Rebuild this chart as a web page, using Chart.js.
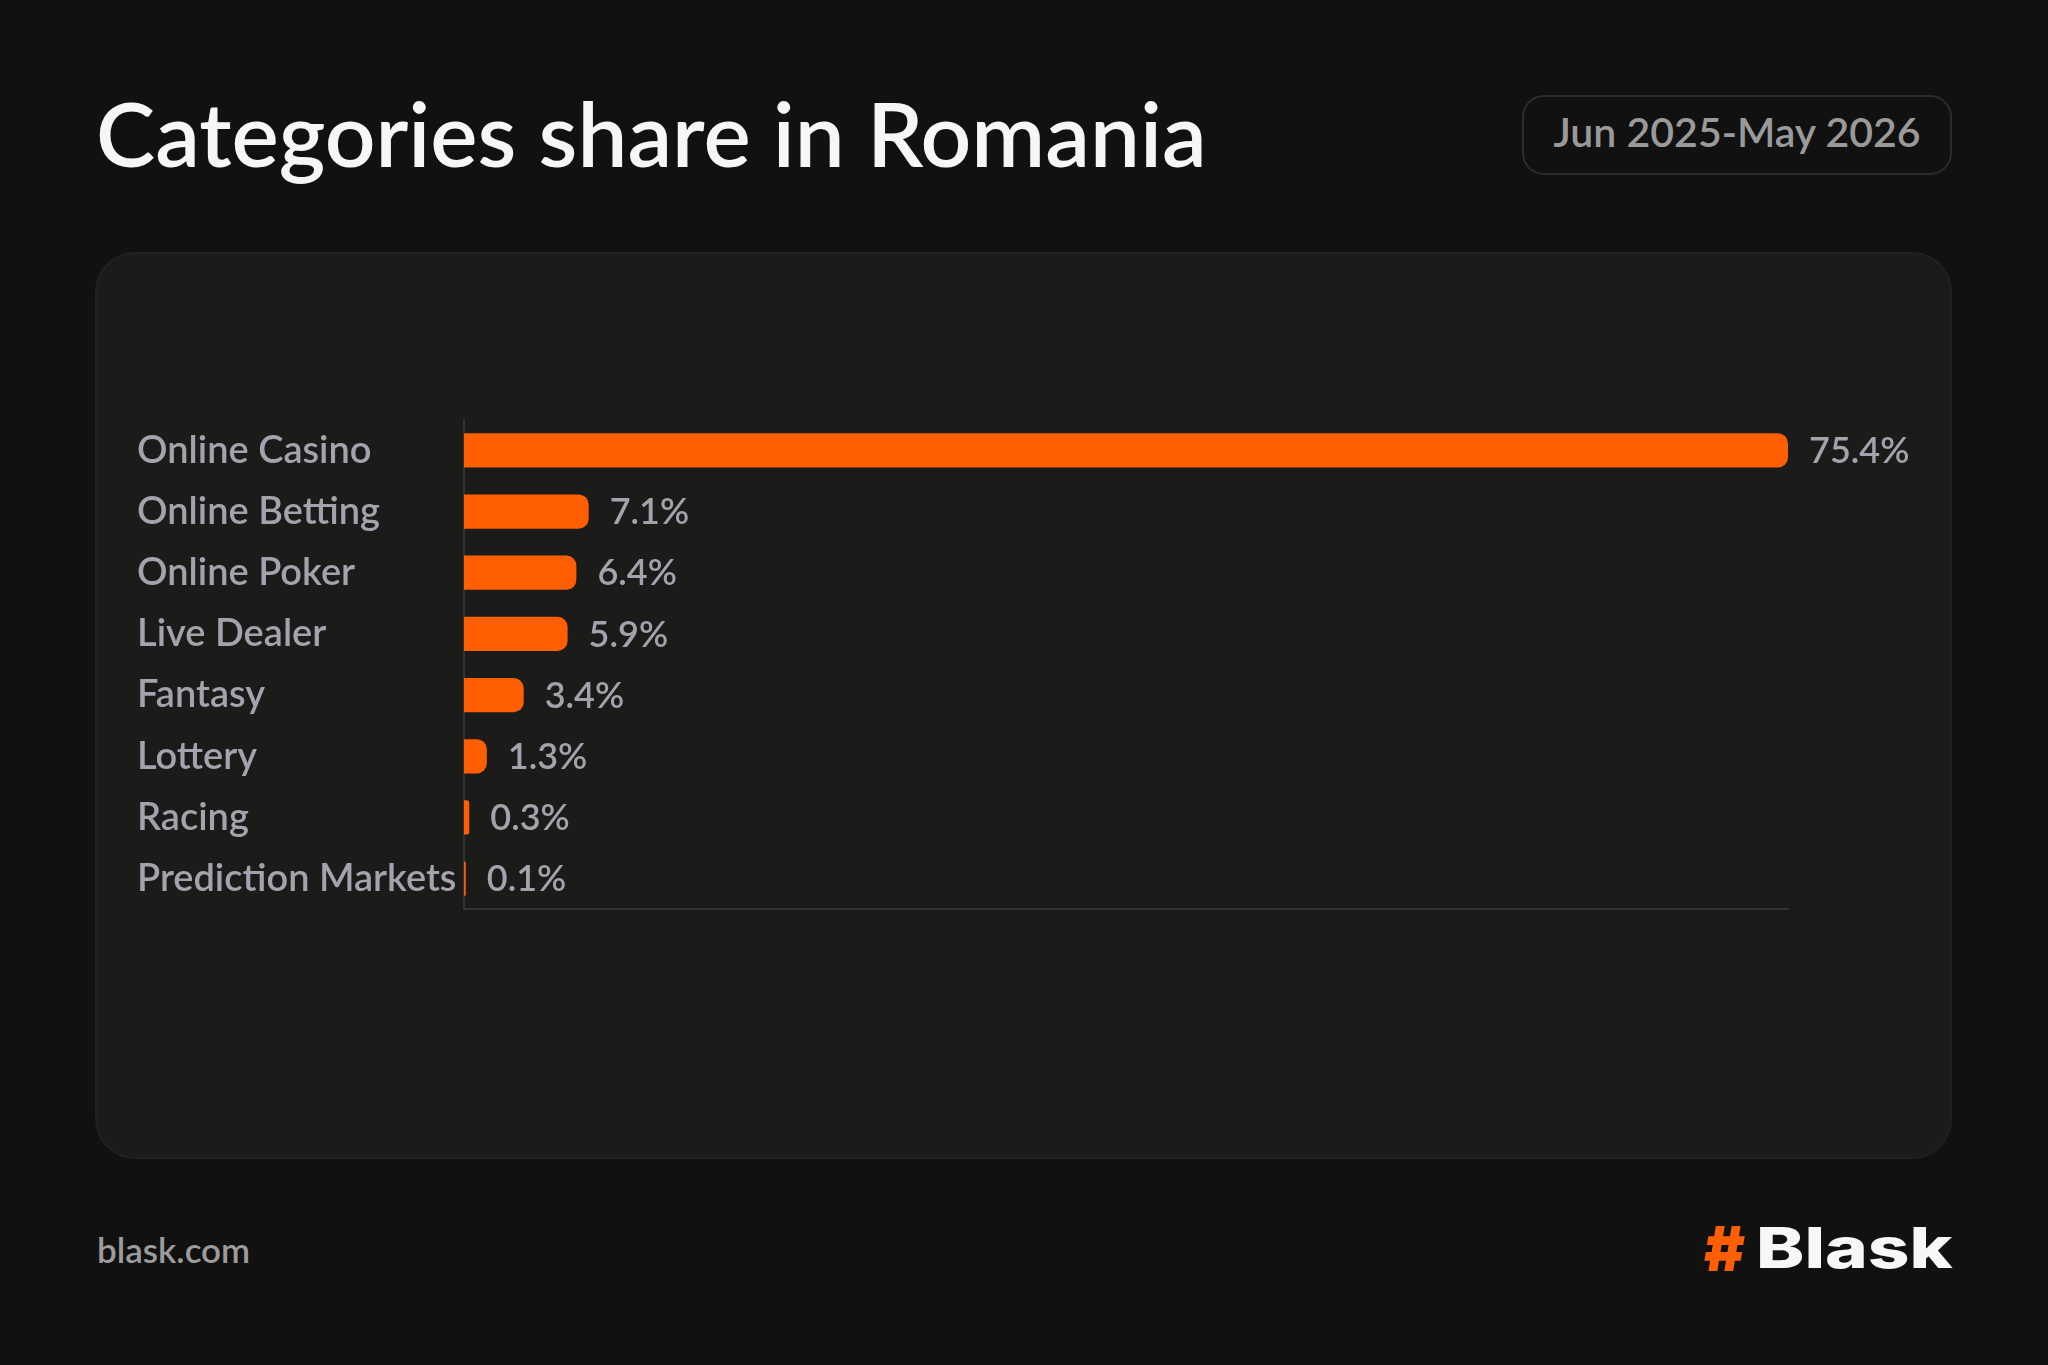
<!DOCTYPE html>
<html>
<head>
<meta charset="utf-8">
<script src="https://cdn.jsdelivr.net/npm/chart.js@4.4.1/dist/chart.umd.min.js"></script>
<style>
    html, body { margin: 0; padding: 0; background: #111111; }
    body { width: 2048px; height: 1365px; position: relative; overflow: hidden; font-family: "Lato", "Noto Sans", sans-serif; }
    .title { position: absolute; left: 96px; top: 88px; font-size: 89px; font-weight: 600; color: #f6f6f4; line-height: 1; white-space: nowrap; }
    .period { position: absolute; left: 1522px; top: 95px; width: 426px; height: 76px; border: 2px solid #2c2c2c; border-radius: 22px;
        box-sizing: content-box; color: #9a9a9a; font-size: 41px; font-weight: 600; display: flex; align-items: center; justify-content: center; }
    .period span { position: relative; top: -4px; }
    .panel { position: absolute; left: 95px; top: 252px; width: 1853px; height: 903px; background: #1b1b1a; border: 2px solid #212121; border-radius: 40px; }
    .chart-box { position: absolute; left: 137px; top: 397px; width: 1800px; height: 535px; }
    .site { position: absolute; left: 97px; top: 1228px; font-size: 35px; font-weight: 600; color: #9c9c9c; }
    .logo { position: absolute; left: 1704px; top: 1214px; height: 60px; width: 250px; font-family: "Inter", sans-serif; font-weight: 800; font-size: 56px; color: #f7f7f5; white-space: nowrap; }
    .logo .hash { position: absolute; left: 0; top: -3px; color: #ff5f00; font-size: 62px; font-weight: 900; }
    .logo .name { position: absolute; left: 52px; top: 0; transform: scaleX(1.3); transform-origin: left top; }
</style>
</head>
<body>
<div class="title">Categories share in Romania</div>
<div class="period"><span>Jun 2025-May 2026</span></div>
<div class="panel"></div>
<div class="chart-box"><canvas id="share-chart"></canvas></div>
<div class="site">blask.com</div>
<div class="logo"><span class="hash">#</span><span class="name">Blask</span></div>

<script>
var categories = ["Online Casino", "Online Betting", "Online Poker", "Live Dealer", "Fantasy", "Lottery", "Racing", "Prediction Markets"];
var shares = [75.4, 7.1, 6.4, 5.9, 3.4, 1.3, 0.3, 0.1];

var labelColor = "#a4a2ac";
var barColor = "#ff5f00";

// value labels to the right of every bar
var valueLabels = {
    id: "valueLabels",
    afterDatasetsDraw: function(chart){
        var ctx = chart.ctx;
        var meta = chart.getDatasetMeta(0);
        ctx.save();
        ctx.fillStyle = labelColor;
        ctx.font = "600 36px Lato, 'Noto Sans', sans-serif";
        ctx.textAlign = "left";
        ctx.textBaseline = "middle";
        meta.data.forEach(function(bar, i){
            ctx.fillText(shares[i].toFixed(1) + "%", bar.x + 21, bar.y + 1);
        });
        ctx.restore();
    }
};

var ctx = document.getElementById("share-chart");
new Chart(ctx, {
    type: "bar",
    data: {
        labels: categories,
        datasets: [{
            data: shares,
            backgroundColor: barColor,
            borderRadius: 10,
            borderSkipped: "start",
            categoryPercentage: 1,
            barPercentage: 0.56
        }]
    },
    options: {
        indexAxis: "y",
        responsive: true,
        maintainAspectRatio: false,
        animation: false,
        layout: { padding: { top: 0, right: 149, bottom: 0, left: 0 } },
        plugins: { legend: { display: false }, tooltip: { enabled: false } },
        scales: {
            x: {
                min: 0,
                max: Math.max.apply(null, shares),
                ticks: { display: false },
                grid: { display: false, drawTicks: false },
                border: { display: true, color: "#333333", width: 2 },
                afterFit: function(scale){ scale.height = 0; }
            },
            y: {
                ticks: {
                    color: labelColor,
                    font: { family: "Lato, 'Noto Sans', sans-serif", size: 38, weight: 600 },
                    crossAlign: "far",
                    padding: 0
                },
                grid: { display: false, drawTicks: false },
                border: { display: true, color: "#333333", width: 2 },
                afterFit: function(scale){ scale.width = 327; }
            }
        }
    },
    plugins: [valueLabels]
});
</script>
</body>
</html>
